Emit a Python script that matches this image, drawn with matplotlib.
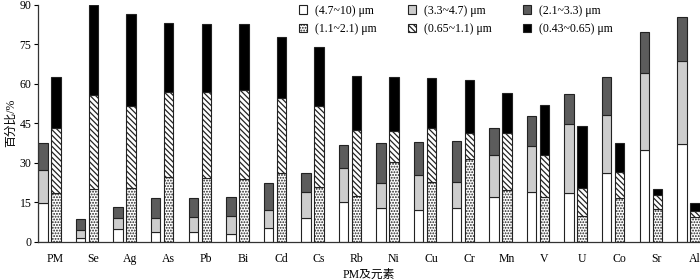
import numpy as np
import matplotlib
matplotlib.use("Agg")
import matplotlib.pyplot as plt

plt.rcParams['font.family'] = ['Liberation Serif', 'Noto Sans CJK SC']
plt.rcParams['font.size'] = 8.5
plt.rcParams['hatch.linewidth'] = 0.9

# elementos / PM
labels = ['PM', 'Se', 'Ag', 'As', 'Pb', 'Bi', 'Cd', 'Cs', 'Rb', 'Ni', 'Cu',
          'Cr', 'Mn', 'V', 'U', 'Co', 'Sr', 'Al']

# barra da esquerda (particulas grossas), valores acumulados
cum_47_10 = [14.7, 1.6, 4.8, 3.7, 3.7, 2.9, 5.4, 9.2, 15.2, 12.9, 12.1,
             12.9, 17.2, 18.8, 18.5, 26.3, 34.9, 37.2]
cum_33_47 = [27.3, 4.5, 9.1, 9.0, 9.6, 10.0, 12.1, 18.8, 28.2, 22.5, 25.4,
             22.9, 32.9, 36.3, 44.8, 48.0, 64.1, 68.6]
cum_21_33 = [37.4, 8.6, 13.4, 16.8, 16.8, 17.2, 22.2, 26.3, 36.7, 37.4, 37.9,
             38.3, 43.4, 47.8, 56.0, 62.7, 79.5, 85.2]

# barra da direita (particulas finas)
cum_11_21 = [18.7, 20.0, 20.3, 24.8, 24.4, 24.0, 26.2, 20.7, 17.4, 30.2, 22.9,
             31.6, 19.6, 17.2, 9.7, 16.7, 12.6, 9.6]
cum_065_11 = [43.4, 55.8, 51.6, 56.9, 56.9, 57.5, 54.5, 51.6, 42.6, 42.2, 43.1,
              41.3, 41.3, 33.1, 20.6, 26.7, 17.8, 11.9]
cum_043_065 = [62.7, 90.0, 86.5, 83.2, 82.8, 82.8, 77.9, 73.8, 63.1, 62.7, 62.2,
               61.4, 56.4, 51.8, 44.1, 37.4, 20.2, 14.9]

legend_labels = ['(4.7~10) μm', '(3.3~4.7) μm', '(2.1~3.3) μm',
                 '(1.1~2.1) μm', '(0.65~1.1) μm', '(0.43~0.65) μm']

# converto acumulado em altura de cada segmento
left_cum = np.array([cum_47_10, cum_33_47, cum_21_33])
right_cum = np.array([cum_11_21, cum_065_11, cum_043_065])
left_h = np.diff(np.vstack([np.zeros(len(labels)), left_cum]), axis=0)
right_h = np.diff(np.vstack([np.zeros(len(labels)), right_cum]), axis=0)

edge = '#222222'
left_styles = [dict(facecolor='white'),
               dict(facecolor='#cdcdcd'),
               dict(facecolor='#5c5c5c')]
right_styles = [dict(facecolor='white', hatch='......'),
                dict(facecolor='white', hatch='\\\\\\\\\\\\'),
                dict(facecolor='black')]

fig = plt.figure(figsize=(7, 2.8), dpi=100)
ax = fig.add_axes([0.054, 0.136, 0.946, 0.847])

x = np.arange(len(labels))
w = 0.25
d = 0.173

handles = []
for k in range(3):
    b = ax.bar(x - d, left_h[k], w, bottom=left_cum[k] - left_h[k],
               edgecolor=edge, linewidth=0.8, **left_styles[k])
    handles.append(b)
for k in range(3):
    b = ax.bar(x + d, right_h[k], w, bottom=right_cum[k] - right_h[k],
               edgecolor=edge, linewidth=0.8, **right_styles[k])
    handles.append(b)

ax.set_xlim(-d - w / 2 - 0.01, len(labels) - 1 + d + w / 2 + 0.01)
ax.set_ylim(0, 90)
ax.set_yticks(np.arange(0, 91, 15))
ax.set_xticks(x + 0.16)
ax.set_xticklabels(labels)
ax.tick_params(axis='x', length=0, pad=8)
ax.tick_params(axis='y', length=3, pad=1.5, direction='out')
for s in ['top', 'right']:
    ax.spines[s].set_visible(False)
for s in ['left', 'bottom']:
    ax.spines[s].set_color('#333333')
    ax.spines[s].set_linewidth(0.9)

ax.set_ylabel('百分比/%', labelpad=2)
ax.set_xlabel('PM及元素', labelpad=3)

# legenda em 2 linhas x 3 colunas
order = [0, 3, 1, 4, 2, 5]
leg = ax.legend([handles[i] for i in order], [legend_labels[i] for i in order],
                ncol=3, loc='upper left', bbox_to_anchor=(0.387, 1.02),
                frameon=False, handlelength=0.7, handleheight=0.7,
                handletextpad=0.7, columnspacing=2.6, labelspacing=0.55,
                borderaxespad=0, fontsize=8.5)

fig.savefig('out.png', dpi=100)
